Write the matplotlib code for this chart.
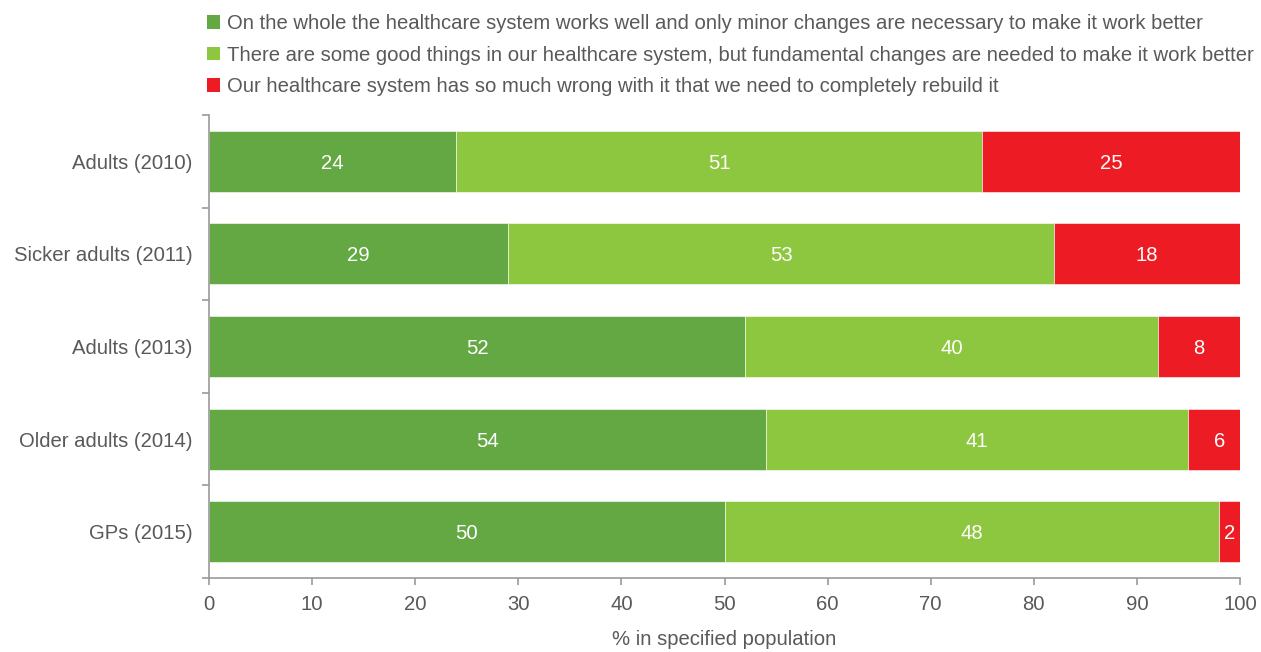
import matplotlib
matplotlib.use("Agg")
import matplotlib.pyplot as plt
from matplotlib.patches import Patch
import numpy as np

categories = ["Adults (2010)", "Sicker adults (2011)", "Adults (2013)", "Older adults (2014)", "GPs (2015)"]
works_well = [24, 29, 52, 54, 50]
fundamental = [51, 53, 40, 41, 48]
rebuild = [25, 18, 8, 6, 2]
series_labels = [
    "On the whole the healthcare system works well and only minor changes are necessary to make it work better",
    "There are some good things in our healthcare system, but fundamental changes are needed to make it work better",
    "Our healthcare system has so much wrong with it that we need to completely rebuild it",
]
colors = ["#64A844", "#8DC63F", "#ED1C24"]
xticks = list(range(0, 101, 10))

plt.rcParams['font.family'] = ['Liberation Sans', 'DejaVu Sans']
txt = "#595959"
fs = 14.6

fig = plt.figure(figsize=(12.61, 6.52), dpi=100)
ax = fig.add_axes([209/1261, 1-578/652, (1240-209)/1261, (578-115)/652])

y = np.arange(len(categories))
left = np.zeros(len(categories))
for vals, c in zip([works_well, fundamental, rebuild], colors):
    vals = np.array(vals, dtype=float)
    ax.barh(y, vals, left=left, height=0.66, color=c, edgecolor="white", linewidth=0.4)
    for yi, l, v in zip(y, left, vals):
        ax.text(l + v/2, yi, f"{int(v)}", ha="center", va="center_baseline", color="white", fontsize=fs)
    left += vals

ax.set_ylim(len(categories)-0.5, -0.5)
ax.set_xlim(0, 100)
ax.set_yticks(y)
ax.set_yticklabels(categories, fontsize=fs, color=txt)
ax.set_yticks(np.arange(-0.5, len(categories)), minor=True)
ax.tick_params(axis="y", which="major", length=0, pad=12)
ax.tick_params(axis="y", which="minor", length=5, color="#999999", width=1.2)
ax.set_xticks(xticks)
ax.set_xticklabels([str(t) for t in xticks], fontsize=fs, color=txt)
ax.tick_params(axis="x", length=5, color="#999999", width=1.2, pad=7)
for s in ["top", "right"]:
    ax.spines[s].set_visible(False)
ax.spines["left"].set_color("#999999")
ax.spines["bottom"].set_color("#999999")
ax.spines["left"].set_linewidth(1.2)
ax.spines["bottom"].set_linewidth(1.2)
ax.set_xlabel("% in specified population", fontsize=fs, color=txt, labelpad=12)

handles = [Patch(facecolor=c, edgecolor="none") for c in colors]
fig.legend(handles, series_labels, loc="upper left", bbox_to_anchor=(199/1261, 1-6/652),
           frameon=False, fontsize=fs, labelcolor=txt, handlelength=0.65, handleheight=0.65,
           handletextpad=0.35, labelspacing=0.62, borderaxespad=0)

fig.savefig("out.png", dpi=100)
